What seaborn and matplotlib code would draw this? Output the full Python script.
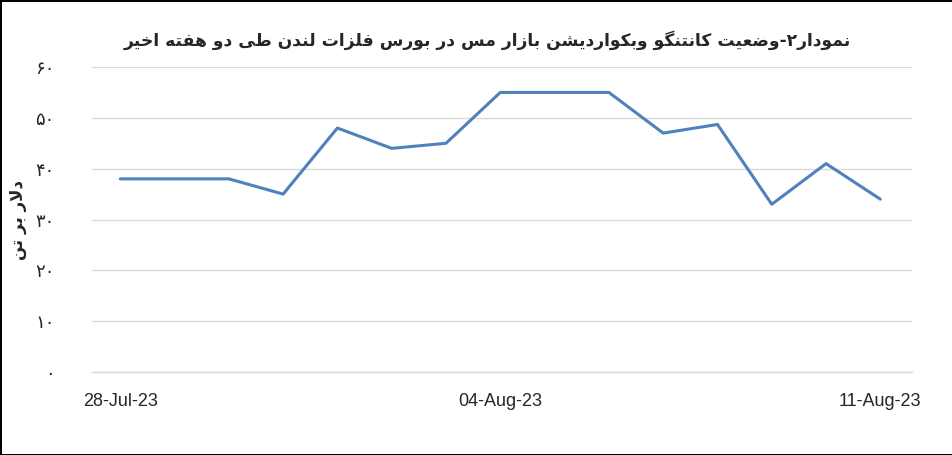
import matplotlib
matplotlib.use('Agg')
import matplotlib.pyplot as plt
import matplotlib.dates as mdates
import pandas as pd
import seaborn as sns

# daily contango/backwardation values (USD per tonne)
dates = pd.date_range("2023-07-28", "2023-08-11", freq="D")
values = [38, 38, 38, 35, 48, 44, 45, 55, 55, 55, 47, 48.7, 33, 41, 34]
tick_dates = ["2023-07-28", "2023-08-04", "2023-08-11"]
y_ticks = [0, 10, 20, 30, 40, 50, 60]
y_tick_labels = ["۰", "۱۰", "۲۰", "۳۰", "۴۰", "۵۰", "۶۰"]
title_text = "نمودار۲-وضعیت کانتنگو وبکواردیشن بازار مس در بورس فلزات لندن طی دو هفته اخیر"
ylabel_text = "دلار بر تن"

# minimal arabic/persian shaping, matplotlib does not shape by itself
FORMS = {
    "ا": (0xFE8D, 0xFE8E, None, None), "ب": (0xFE8F, 0xFE90, 0xFE91, 0xFE92),
    "ت": (0xFE95, 0xFE96, 0xFE97, 0xFE98), "خ": (0xFEA5, 0xFEA6, 0xFEA7, 0xFEA8),
    "د": (0xFEA9, 0xFEAA, None, None), "ر": (0xFEAD, 0xFEAE, None, None),
    "ز": (0xFEAF, 0xFEB0, None, None), "س": (0xFEB1, 0xFEB2, 0xFEB3, 0xFEB4),
    "ش": (0xFEB5, 0xFEB6, 0xFEB7, 0xFEB8), "ض": (0xFEBD, 0xFEBE, 0xFEBF, 0xFEC0),
    "ط": (0xFEC1, 0xFEC2, 0xFEC3, 0xFEC4), "ع": (0xFEC9, 0xFECA, 0xFECB, 0xFECC),
    "ف": (0xFED1, 0xFED2, 0xFED3, 0xFED4), "ل": (0xFEDD, 0xFEDE, 0xFEDF, 0xFEE0),
    "م": (0xFEE1, 0xFEE2, 0xFEE3, 0xFEE4), "ن": (0xFEE5, 0xFEE6, 0xFEE7, 0xFEE8),
    "ه": (0xFEE9, 0xFEEA, 0xFEEB, 0xFEEC), "و": (0xFEED, 0xFEEE, None, None),
    "ی": (0xFBFC, 0xFBFD, 0xFBFE, 0xFBFF), "ک": (0xFB8E, 0xFB8F, 0xFB90, 0xFB91),
    "گ": (0xFB92, 0xFB93, 0xFB94, 0xFB95),
}


def dual(c):
    return c in FORMS and FORMS[c][2] is not None


def shape(text):
    out = []
    i = 0
    while i < len(text):
        c = text[i]
        prev = text[i - 1] if i > 0 else ""
        nxt = text[i + 1] if i + 1 < len(text) else ""
        if c not in FORMS:
            out.append(c)
            i += 1
            continue
        joins_prev = dual(prev)
        if c == "ل" and nxt == "ا":  # lam-alef ligature
            out.append(chr(0xFEFC if joins_prev else 0xFEFB))
            i += 2
            continue
        joins_next = dual(c) and nxt in FORMS
        iso, fin, ini, med = FORMS[c]
        if joins_prev and joins_next:
            out.append(chr(med))
        elif joins_prev:
            out.append(chr(fin))
        elif joins_next:
            out.append(chr(ini))
        else:
            out.append(chr(iso))
        i += 1
    return "".join(out)[::-1]  # visual order, right to left


df = pd.DataFrame({"date": dates, "value": values})

sns.set_style("white")
plt.rcParams['font.family'] = ['DejaVu Sans']

fig = plt.figure(figsize=(9.53, 4.55), dpi=100, edgecolor="black", linewidth=2)
ax = fig.add_axes([0.0965, 0.1824, 0.8605, 0.6703])

sns.lineplot(data=df, x="date", y="value", ax=ax, color="#4F81BD", linewidth=2.2)

ax.set_ylim(0, 60)
ax.set_xlim(dates[0] - pd.Timedelta(hours=12.5), dates[-1] + pd.Timedelta(hours=14))
ax.set_yticks(y_ticks)
ax.set_yticklabels(y_tick_labels, fontsize=13)
ax.set_xticks(pd.to_datetime(tick_dates))
ax.xaxis.set_major_formatter(mdates.DateFormatter("%d-%b-%y"))
for lab in ax.get_xticklabels():
    lab.set_fontfamily("Liberation Sans")
    lab.set_fontsize(13)
ax.tick_params(axis="y", length=0, pad=27)
ax.tick_params(axis="x", length=0, pad=15)
ax.grid(axis="y", color="#D9D9D9", linewidth=1)
ax.grid(axis="x", visible=False)
for s in ax.spines.values():
    s.set_visible(False)
ax.spines["bottom"].set_visible(True)
ax.spines["bottom"].set_color("#D9D9D9")
ax.spines["bottom"].set_linewidth(1)

ax.set_xlabel("")
ax.set_ylabel(shape(ylabel_text), fontsize=12, fontweight="bold", labelpad=6)
fig.text(0.511, 0.912, shape(title_text), ha="center", va="center",
         fontsize=12.3, fontweight="bold")

plt.savefig("out.png", dpi=100)
